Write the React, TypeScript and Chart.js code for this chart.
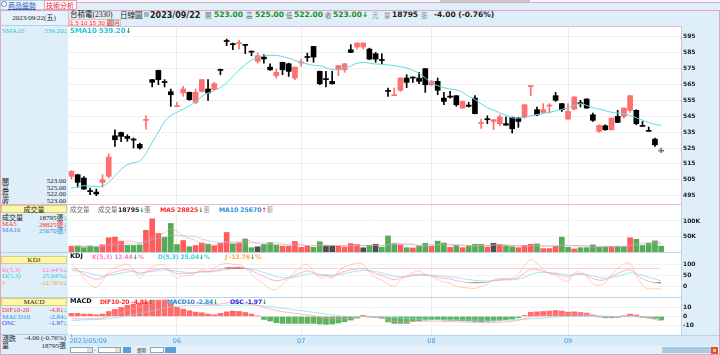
import React, { useEffect, useRef } from "react";
import { Chart, registerables } from "chart.js";
Chart.register(...registerables);

// ---------------- DATA ----------------
const opens = [
  507.2, 508.2, 506.1, 498.0, 497.3, 503.4, 507.2, 532.7, 534.8, 532.3,
  530.5, 527.3, 542.4, 568.0, 573.8, 566.5, 560.4, 551.0, 559.6, 560.0,
  553.7, 560.6, 562.1, 561.7, 574.2, 592.4, 590.2, 590.6, 590.0, 585.6,
  579.5, 582.2, 575.9, 570.5, 578.9, 578.0, 569.0, 578.5, 582.2, 588.9,
  573.2, 568.3, 566.9, 574.2, 574.2, 586.8, 588.5, 588.5, 587.2, 584.3,
  580.2, 560.8, 557.9, 561.3, 569.0, 569.6, 569.0, 574.9, 564.8, 566.9,
  556.4, 557.2, 557.9, 550.1, 552.0, 556.4, 540.5, 543.0, 541.7, 540.3,
  540.3, 544.3, 543.8, 544.5, 563.6, 549.1, 547.4, 551.4, 557.9, 552.9,
  543.2, 549.5, 553.1, 555.8, 545.9, 535.5, 539.0, 536.5, 544.9, 544.9,
  548.7, 548.7, 539.0, 536.1, 530.6, 523.0,
];
const highs = [
  510.8, 508.5, 507.0, 499.8, 499.2, 508.2, 521.4, 536.5, 535.0, 533.4,
  531.3, 528.1, 545.3, 568.2, 574.0, 568.0, 562.1, 553.7, 563.8, 560.2,
  562.1, 568.2, 568.0, 566.3, 574.6, 593.5, 591.0, 592.7, 590.2, 586.0,
  584.7, 583.7, 578.0, 574.7, 579.0, 578.4, 575.9, 581.0, 584.7, 589.0,
  573.4, 573.2, 573.2, 576.9, 578.2, 590.0, 591.2, 591.2, 587.8, 585.1,
  584.3, 562.7, 562.7, 569.2, 571.1, 569.8, 572.6, 575.0, 567.5, 569.0,
  560.0, 560.6, 558.0, 554.5, 553.7, 557.9, 543.2, 545.3, 543.0, 545.9,
  544.5, 544.5, 544.3, 552.4, 564.0, 550.8, 552.9, 552.9, 560.0, 553.1,
  552.9, 557.3, 555.0, 556.0, 547.0, 539.6, 539.6, 544.0, 548.7, 550.3,
  558.1, 549.1, 541.7, 538.2, 531.3, 525.0,
];
const lows = [
  505.5, 500.4, 499.0, 495.6, 495.0, 500.4, 506.1, 526.0, 529.0, 529.2,
  525.0, 524.3, 536.9, 563.4, 564.8, 563.4, 551.2, 551.0, 557.5, 555.0,
  552.9, 560.2, 555.0, 561.3, 571.1, 589.4, 586.8, 587.2, 584.3, 583.0,
  578.4, 578.4, 573.8, 569.0, 571.1, 570.0, 568.0, 576.3, 579.5, 578.9,
  564.8, 563.4, 565.2, 570.5, 572.6, 585.0, 587.2, 587.2, 580.5, 578.9,
  578.0, 557.5, 557.9, 560.6, 563.0, 566.3, 565.4, 560.0, 564.2, 558.5,
  552.2, 556.4, 551.2, 550.0, 550.8, 546.4, 537.3, 540.3, 536.5, 539.0,
  539.2, 534.4, 538.0, 543.8, 557.9, 545.3, 547.2, 547.0, 554.3, 548.0,
  543.0, 549.0, 550.8, 550.0, 541.7, 534.8, 536.1, 536.2, 541.0, 543.8,
  547.4, 539.6, 538.6, 535.5, 526.0, 522.0,
];
const closes = [
  510.3, 503.4, 499.2, 497.6, 496.1, 505.1, 519.3, 530.2, 532.3, 531.0,
  530.0, 525.0, 543.0, 566.3, 568.0, 566.2, 558.5, 551.4, 562.1, 555.4,
  560.0, 568.0, 559.6, 565.4, 573.8, 592.0, 590.0, 591.0, 589.5, 585.3,
  583.0, 581.0, 574.2, 572.6, 574.2, 573.2, 575.9, 578.9, 581.9, 582.2,
  565.4, 568.0, 565.4, 576.8, 578.0, 585.1, 591.0, 591.0, 580.9, 580.9,
  580.0, 560.6, 558.5, 569.0, 566.3, 569.0, 566.9, 564.8, 566.9, 561.3,
  554.3, 557.0, 552.2, 554.3, 551.2, 546.6, 540.9, 542.8, 542.8, 544.5,
  539.4, 537.1, 541.7, 552.2, 563.9, 545.9, 549.1, 551.7, 555.0, 549.1,
  548.0, 557.1, 552.9, 550.1, 542.4, 539.2, 536.5, 543.8, 541.1, 550.1,
  557.9, 540.3, 538.6, 535.5, 527.0, 523.0,
];
const sma10 = [
  499.8, 500.6, 501.3, 501.0, 500.8, 500.9, 503.5, 507.5, 511.5, 514.5,
  515.8, 516.8, 521.5, 528.5, 535.0, 541.5, 545.5, 547.5, 549.5, 551.5,
  554.0, 557.5, 559.5, 561.2, 563.0, 566.0, 570.0, 574.0, 577.5, 580.3,
  582.0, 583.0, 583.3, 583.3, 582.5, 581.5, 580.0, 578.8, 577.8, 577.0,
  576.8, 575.5, 574.3, 574.5, 575.3, 576.5, 578.3, 578.8, 578.3, 577.8,
  577.6, 577.3, 576.7, 576.2, 575.3, 573.8, 572.1, 569.0, 566.0, 564.2,
  563.0, 562.0, 561.7, 560.0, 557.5, 555.5, 552.8, 550.5, 548.8, 547.2,
  545.5, 544.0, 543.8, 544.3, 545.2, 546.0, 546.8, 547.5, 548.3, 549.3,
  550.3, 551.8, 552.8, 551.8, 550.3, 549.5, 548.5, 547.5, 547.0, 546.6,
  545.5, 544.0, 542.5, 541.0, 539.8, 539.2,
];
const volumes = [
  18500, 19600, 14000, 19600, 16000, 23000, 46000, 48000, 35000, 21000,
  21000, 23000, 70000, 107000, 60000, 48000, 92000, 24000, 37000, 17000,
  21000, 29000, 25000, 20000, 28000, 63000, 26000, 29000, 42000, 14000,
  17000, 24000, 30000, 23000, 18500, 18500, 34000, 15000, 18500, 15000,
  33000, 19600, 19600, 18500, 16000, 27000, 24000, 13500, 22000, 25000,
  15000, 52000, 27000, 23000, 14000, 13000, 19600, 28000, 18500, 35000,
  29000, 15000, 21000, 14000, 19600, 25000, 25000, 16000, 28000, 24000,
  19600, 17000, 14000, 21000, 25000, 26000, 11000, 11000, 18500, 48000,
  15000, 10000, 14000, 14000, 23000, 16000, 16000, 17000, 17000, 17000,
  46000, 41000, 21000, 28000, 36000, 18795,
];
const volDirs = [
  "r","g","g","g","g","r","r","r","r","g",
  "g","g","r","r","r","g","g","g","r","g",
  "r","r","g","r","r","r","g","r","g","g",
  "k","g","g","g","r","r","r","r","r","g",
  "g","k","k","r","r","r","r","k","g","k",
  "g","g","g","r","g","r","g","g","r","g",
  "g","r","g","r","g","g","g","r","k","r",
  "g","g","r","r","r","g","r","r","r","g",
  "g","r","g","g","g","g","g","r","g","g",
  "r","g","g","g","g","g",
];
const volMA5 = [
  18000, 18000, 18000, 18000, 17500, 18500, 24000, 30000, 34000, 35000,
  34000, 30000, 34000, 48000, 56000, 62000, 75000, 66000, 52000, 44000,
  38000, 26000, 26000, 22000, 25000, 33000, 32000, 33000, 38000, 35000,
  26000, 25000, 25000, 22000, 22500, 23000, 25000, 22000, 21000, 20000,
  23000, 20000, 21000, 21000, 21000, 20000, 21000, 20000, 20500, 22000,
  20000, 25500, 28000, 28000, 26000, 26000, 19000, 19500, 19000, 23000,
  26000, 25000, 24000, 23000, 20000, 19000, 21000, 20000, 23000, 24000,
  22500, 21000, 20500, 19000, 19000, 21000, 19000, 19000, 18000, 23000,
  21000, 20500, 21000, 20000, 15000, 15500, 17000, 17000, 18000, 17000,
  23000, 28000, 28500, 31000, 34000, 28825,
];
const volMA10 = [
  19000, 19000, 18500, 18500, 18000, 18000, 20000, 23000, 25000, 26000,
  26000, 27000, 32000, 41000, 44000, 47000, 55000, 53000, 52000, 51000,
  50000, 42000, 37000, 33000, 31000, 33000, 29000, 29000, 30000, 29000,
  30000, 28000, 29000, 30000, 27000, 22000, 24000, 23000, 21000, 21000,
  23000, 22500, 21500, 21000, 20500, 21000, 22000, 21000, 21000, 22000,
  20000, 22500, 24000, 24000, 23000, 23000, 22000, 23000, 23000, 23500,
  23000, 22000, 21000, 21000, 21000, 21000, 22000, 22000, 22000, 23000,
  22000, 21000, 20000, 20000, 21000, 21000, 20000, 20000, 20000, 21000,
  21000, 19500, 19500, 19500, 19000, 18000, 18500, 18000, 19000, 18000,
  19500, 21500, 23000, 24000, 26000, 25670,
];
const kVals = [
  80, 72, 55, 40, 32, 40, 55, 65, 72, 75,
  70, 55, 65, 73, 79, 81, 70, 57, 60, 58,
  62, 68, 66, 72, 76, 86, 86, 87, 82, 70,
  58, 45, 32, 25, 30, 38, 50, 62, 70, 62,
  48, 50, 45, 58, 68, 75, 79, 81.5, 70, 58,
  50, 38, 30, 38, 45, 52, 55, 52, 48, 42,
  36, 33, 26, 21, 17, 15, 16, 19, 26, 30,
  32, 33, 40, 60, 78, 76, 68, 60, 56, 48,
  42, 55, 58, 50, 35, 28, 30, 45, 58, 70,
  75, 55, 35, 22, 17, 12.44,
];
const dVals = [
  70, 70, 65, 58, 50, 47, 50, 55, 60, 65,
  67, 63, 64, 67, 71, 74, 73, 68, 65, 63,
  63, 65, 65, 67, 71, 76, 79, 82, 82, 78,
  72, 63, 53, 44, 39, 39, 42, 49, 56, 58,
  55, 53, 50, 53, 58, 64, 69, 73, 72, 67,
  61, 53, 46, 43, 44, 47, 50, 50, 50, 48,
  46, 43, 40, 35, 31, 27, 25, 24, 25, 27,
  29, 30, 33, 42, 54, 61, 63, 62, 60, 56,
  51, 52, 54, 53, 47, 41, 37, 40, 46, 54,
  61, 59, 51, 41, 33, 25.04,
];
const jVals = [
  100, 75, 35, 5, -5, 25, 65, 85, 95, 100,
  78, 35, 68, 88, 98, 95, 62, 35, 50, 48,
  60, 75, 68, 82, 98, 105, 100, 98, 82, 55,
  30, 10, -12, -15, 10, 35, 65, 90, 100, 70,
  35, 45, 35, 68, 88, 98, 105, 100, 65, 40,
  28, 8, 0, 28, 48, 62, 70, 55, 45, 32,
  18, 15, 0, -5, -8, -10, 0, 10, 30, 35,
  36, 38, 55, 95, 122, 105, 78, 58, 50, 32,
  22, 60, 65, 45, 12, 4, 15, 55, 82, 102,
  105, 48, 5, -12, -10, -12.76,
];
const difVals = [
  -2.85, -2.55, -2.65, -2.35, -2.5, -1.85, 0.2, 2.2, 4.4, 6.8,
  8.8, 10.4, 12.8, 15.2, 16.7, 18.1, 17.3, 15.9, 15.5, 14.9,
  14.35, 14.1, 13.35, 12.9, 13.65, 14.6, 15.1, 15.0, 14.45, 13.35,
  12.1, 9.75, 8.2, 6.45, 5.2, 4.3, 3.4, 2.5, 1.6, 0.7,
  -0.65, -1.85, -2.55, -2.8, -2.7, -2.2, -1.3, 0.2, -0.5, -0.9,
  -1.6, -4.0, -5.3, -5.8, -6.2, -5.45, -5.4, -5.2, -5.1, -5.05,
  -5.5, -5.75, -5.85, -6.15, -6.4, -6.7, -7.0, -6.9, -6.7, -6.25,
  -5.8, -5.25, -4.25, -2.7, -0.45, 0.3, 1.0, 1.7, 2.55, 2.6,
  2.35, 2.7, 2.55, 2.3, 1.25, 0.15, -0.55, -0.75, -0.7, -0.05,
  0.95, 0.35, -0.95, -2.15, -3.35, -4.81,
];
const macdVals = [
  -4.5, -4.2, -3.9, -3.6, -3.4, -3.1, -2.5, -1.6, -0.5, 0.8,
  2.1, 3.4, 4.8, 6.3, 7.8, 9.2, 10.3, 11.0, 11.5, 11.8,
  12.0, 12.1, 12.1, 12.0, 12.0, 12.1, 12.2, 12.3, 12.3, 12.1,
  11.9, 11.4, 10.7, 9.9, 9.0, 8.1, 7.2, 6.3, 5.4, 4.5,
  3.5, 2.5, 1.6, 0.8, 0.2, -0.2, -0.4, -0.3, -0.3, -0.4,
  -0.6, -1.0, -1.5, -2.0, -2.4, -2.7, -3.0, -3.2, -3.3, -3.4,
  -3.5, -3.6, -3.7, -3.8, -3.9, -4.0, -4.1, -4.2, -4.2, -4.1,
  -4.0, -3.8, -3.5, -3.2, -2.7, -2.2, -1.7, -1.2, -0.7, -0.3,
  0.0, 0.2, 0.4, 0.5, 0.5, 0.4, 0.2, 0.0, -0.2, -0.3,
  -0.3, -0.4, -0.8, -1.4, -2.1, -2.84,
];
const oscBars = [
  3.3, 3.3, 2.5, 2.5, 1.8, 2.5, 5.4, 7.6, 9.8, 12,
  13.4, 14, 16, 17.8, 17.8, 17.8, 14, 9.8, 8, 6.2,
  4.7, 4, 2.5, 1.8, 3.3, 5, 5.8, 5.4, 4.3, 2.5,
  0.4, -3.3, -5, -6.9, -7.6, -7.6, -7.6, -7.6, -7.6, -7.6,
  -8.3, -8.7, -8.3, -7.2, -5.8, -4, -1.8, 1, -0.4, -1,
  -2, -6, -7.6, -7.6, -7.6, -5.5, -4.8, -4, -3.6, -3.3,
  -4, -4.3, -4.3, -4.7, -5, -5.4, -5.8, -5.4, -5, -4.3,
  -3.6, -2.9, -1.5, 1, 4.5, 5, 5.4, 5.8, 6.5, 5.8,
  4.7, 5, 4.3, 3.6, 1.5, -0.5, -1.5, -1.5, -1, 0.5,
  2.5, 1.5, -0.3, -1.5, -2.5, -3.94,
];
const monthStartIdx = [17, 37, 58, 80];
const dateTickIdx = [0, 17, 37, 58, 80];
const dateTickLabels = ["2023/05/09", "06", "07", "08", "09"];
const priceTicks = [495, 500, 505, 510, 515, 520, 525, 530, 535, 540, 545, 550, 555, 560, 565, 570, 575, 580, 585, 590, 595];
const volTicks = [50000, 100000];
const kdjTicks = [0, 50, 100];
const macdTicks = [-10, 0, 10];

// ---------------- STYLE / LAYOUT ----------------
const X_MIN = -0.56;
const X_MAX = 98.2;
const CW = 652;
const AXIS_W = 39;
const PAD = 6;
const TICK_FONT = { family: "DejaVu Sans", size: 6, weight: "bold" as const };
const RED_C = "#ff6f6f";
const BLACK_C = "#000000";
const GRAY_C = "#777777";

const bgPlugin = {
  id: "plotbg",
  beforeDraw(chart: any) {
    const { ctx, chartArea: a } = chart;
    ctx.save();
    ctx.fillStyle = "#ffffff";
    ctx.fillRect(a.left, a.top, a.right - a.left, a.bottom - a.top);
    ctx.restore();
  },
};

const datePlugin = {
  id: "dates",
  afterDraw(chart: any) {
    const { ctx, chartArea: a } = chart;
    const xs = chart.scales.x;
    ctx.save();
    ctx.font = "6.5px 'DejaVu Sans'";
    ctx.fillStyle = "#3e9be0";
    ctx.textBaseline = "middle";
    dateTickIdx.forEach((idx, k) => {
      const px = xs.getPixelForValue(idx);
      if (k === 0) {
        ctx.textAlign = "left";
        ctx.fillText(dateTickLabels[k], px - 2, a.bottom + 6.5);
        ctx.fillStyle = "#8fb7d6";
        ctx.fillRect(Math.round(px), a.bottom - 1, 1, 3);
        ctx.fillStyle = "#3e9be0";
      } else {
        ctx.textAlign = "center";
        ctx.fillText(dateTickLabels[k], px, a.bottom + 6.5);
      }
    });
    ctx.restore();
  },
};

function xAxis() {
  return {
    type: "linear" as const,
    min: X_MIN,
    max: X_MAX,
    offset: false,
    ticks: { display: false },
    border: { display: false },
    grid: { color: "#eeeeee", drawTicks: false, lineWidth: 1, offset: false },
    afterBuildTicks: (s: any) => {
      s.ticks = monthStartIdx.map((v) => ({ value: v }));
    },
  };
}

function yAxis(min: number, max: number, ticks: number[], fmt: (v: number) => string, gridColor: string) {
  return {
    position: "right" as const,
    min,
    max,
    afterFit: (s: any) => {
      s.width = AXIS_W;
    },
    afterBuildTicks: (s: any) => {
      s.ticks = ticks.map((v) => ({ value: v }));
    },
    ticks: { font: TICK_FONT, color: "#1a1a1a", padding: 2, callback: (v: any) => fmt(Number(v)) },
    grid: { color: gridColor, drawTicks: false },
    border: { display: false },
  };
}

function baseOptions(scales: any, padBottom = PAD) {
  return {
    animation: false as const,
    responsive: false,
    maintainAspectRatio: false,
    devicePixelRatio: 1,
    layout: { padding: { top: PAD, bottom: padBottom, left: 0, right: 0 } },
    plugins: { legend: { display: false }, tooltip: { enabled: false } },
    events: [] as any[],
    scales,
  };
}

function candleColor(i: number) {
  if (closes[i] > opens[i]) return RED_C;
  if (closes[i] < opens[i]) return BLACK_C;
  return GRAY_C;
}

function priceConfig(): any {
  const colors = opens.map((_, i) => candleColor(i));
  return {
    type: "bar",
    data: {
      datasets: [
        {
          type: "line",
          data: sma10.map((v, i) => ({ x: i, y: v })),
          borderColor: "#5fdbe3",
          borderWidth: 1,
          pointRadius: 0,
          tension: 0.35,
          order: 0,
        },
        {
          type: "bar",
          data: opens.map((o, i) => ({ x: i, y: [o, closes[i]] })),
          backgroundColor: colors,
          barThickness: 5,
          minBarLength: 1,
          grouped: false,
          order: 1,
        },
        {
          type: "bar",
          data: lows.map((l, i) => ({ x: i, y: [l, highs[i]] })),
          backgroundColor: colors,
          barThickness: 1,
          grouped: false,
          order: 2,
        },
      ],
    },
    options: baseOptions({
      x: xAxis(),
      y: yAxis(489.8, 601.1, priceTicks, (v) => String(v), "#f0f0f0"),
    }),
    plugins: [bgPlugin],
  };
}

function volConfig(): any {
  const map: Record<string, string> = { r: "#ff5c5c", g: "#56ab56", k: "#4d4d4d" };
  const colors = volDirs.map((d) => map[d]);
  return {
    type: "bar",
    data: {
      datasets: [
        { type: "line", data: volMA5.map((v, i) => ({ x: i, y: v })), borderColor: "rgba(255,140,140,0.55)", borderWidth: 1, pointRadius: 0, tension: 0.3, order: 0 },
        { type: "line", data: volMA10.map((v, i) => ({ x: i, y: v })), borderColor: "rgba(140,190,235,0.55)", borderWidth: 1, pointRadius: 0, tension: 0.3, order: 0 },
        { type: "bar", data: volumes.map((v, i) => ({ x: i, y: v })), backgroundColor: colors, barThickness: 5, grouped: false, order: 1 },
      ],
    },
    options: baseOptions({
      x: xAxis(),
      y: yAxis(0, 151600, volTicks, (v) => v / 1000 + "K", "#f3f3f3"),
    }),
    plugins: [bgPlugin],
  };
}

function kdjConfig(): any {
  return {
    type: "line",
    data: {
      datasets: [
        {
          data: kVals.map((v, i) => ({ x: i, y: v })),
          borderColor: "rgba(255,150,200,0.75)",
          borderWidth: 1,
          pointRadius: 0,
          tension: 0.3,
          fill: { target: { value: 80 }, above: "rgba(235,20,20,0.95)", below: "rgba(0,0,0,0)" },
        },
        {
          data: kVals.map((v, i) => ({ x: i, y: v })),
          borderColor: "rgba(0,0,0,0)",
          borderWidth: 0,
          pointRadius: 0,
          tension: 0.3,
          fill: { target: { value: 20 }, above: "rgba(0,0,0,0)", below: "rgba(20,220,20,0.95)" },
        },
        { data: dVals.map((v, i) => ({ x: i, y: v })), borderColor: "rgba(130,225,230,0.75)", borderWidth: 1, pointRadius: 0, tension: 0.3 },
        { data: jVals.map((v, i) => ({ x: i, y: v })), borderColor: "rgba(255,190,140,0.7)", borderWidth: 1, pointRadius: 0, tension: 0.3 },
      ],
    },
    options: baseOptions({
      x: xAxis(),
      y: yAxis(-48.6, 151.4, kdjTicks, (v) => String(v), "#f3f3f3"),
    }),
    plugins: [bgPlugin],
  };
}

function macdConfig(): any {
  const colors = oscBars.map((v) => (v >= 0 ? "#ff6b6b" : "#5fb35f"));
  return {
    type: "bar",
    data: {
      datasets: [
        { type: "line", data: difVals.map((v, i) => ({ x: i, y: v })), borderColor: "rgba(255,150,170,0.7)", borderWidth: 1, pointRadius: 0, tension: 0.3, order: 0 },
        { type: "line", data: macdVals.map((v, i) => ({ x: i, y: v })), borderColor: "rgba(130,220,230,0.7)", borderWidth: 1, pointRadius: 0, tension: 0.3, order: 0 },
        { type: "bar", data: oscBars.map((v, i) => ({ x: i, y: v })), backgroundColor: colors, barThickness: 5, grouped: false, order: 1 },
      ],
    },
    options: baseOptions(
      {
        x: xAxis(),
        y: yAxis(-20.3, 20.1, macdTicks, (v) => String(v), "#f3f3f3"),
      },
      14
    ),
    plugins: [bgPlugin, datePlugin],
  };
}

// ---------------- UI helpers ----------------
const SERIF = "'Liberation Serif', 'DejaVu Serif', 'Noto Sans CJK TC', serif";
const CJK = "'Noto Sans CJK TC', 'Noto Sans CJK SC', sans-serif";
const SANS = "'DejaVu Sans', 'Noto Sans CJK TC', sans-serif";
const ARROW_G = "#11a011";
const ARROW_R = "#ff2020";

function T(props: {
  x: number;
  y: number;
  s?: number;
  c?: string;
  b?: boolean;
  f?: string;
  right?: boolean;
  center?: boolean;
  w?: number;
  ls?: number;
  children: React.ReactNode;
}) {
  const s = props.s ?? 7;
  const h = Math.ceil(s * 1.3);
  const style: React.CSSProperties = {
    position: "absolute",
    top: props.y - h / 2,
    height: h,
    lineHeight: h + "px",
    fontSize: s,
    color: props.c ?? "#222",
    fontWeight: props.b ? "bold" : "normal",
    fontFamily: props.f ?? SERIF,
    whiteSpace: "nowrap",
    letterSpacing: props.ls ?? 0,
  };
  if (props.right) {
    style.right = 720 - props.x;
    style.textAlign = "right";
  } else if (props.center) {
    style.left = props.x - (props.w ?? 60) / 2;
    style.width = props.w ?? 60;
    style.textAlign = "center";
  } else {
    style.left = props.x;
  }
  return <div style={style}>{props.children}</div>;
}

function Box(p: { x: number; y: number; w: number; h: number; bg?: string; bd?: string; z?: number }) {
  return (
    <div
      style={{
        position: "absolute",
        left: p.x,
        top: p.y,
        width: p.w,
        height: p.h,
        background: p.bg ?? "transparent",
        border: p.bd ? "1px solid " + p.bd : undefined,
        boxSizing: "border-box",
        zIndex: p.z,
      }}
    />
  );
}

function YellowHead(p: { y: number; label: string }) {
  return (
    <>
      <Box x={1} y={p.y} w={66} h={8} bg="#fbf6a8" bd="#d8cf7a" />
      <T x={34} y={p.y + 4} s={7} center w={66} f={p.label === "KDJ" || p.label === "MACD" ? SERIF : CJK}>
        {p.label}
      </T>
    </>
  );
}

export default function App() {
  const priceRef = useRef<HTMLCanvasElement>(null);
  const volRef = useRef<HTMLCanvasElement>(null);
  const kdjRef = useRef<HTMLCanvasElement>(null);
  const macdRef = useRef<HTMLCanvasElement>(null);

  useEffect(() => {
    const charts = [
      new Chart(priceRef.current as HTMLCanvasElement, priceConfig()),
      new Chart(volRef.current as HTMLCanvasElement, volConfig()),
      new Chart(kdjRef.current as HTMLCanvasElement, kdjConfig()),
      new Chart(macdRef.current as HTMLCanvasElement, macdConfig()),
    ];
    return () => charts.forEach((c) => c.destroy());
  }, []);

  const cv = (top: number, h: number): React.CSSProperties => ({
    position: "absolute",
    left: 68,
    top,
    width: CW,
    height: h,
  });

  const arrowD = <span style={{ color: ARROW_G }}>↓</span>;
  const arrowU = <span style={{ color: ARROW_R }}>↑</span>;

  return (
    <div
      style={{
        position: "absolute",
        left: 0,
        top: 0,
        width: 720,
        height: 355,
        background: "#dfeffa",
        overflow: "hidden",
        fontFamily: SERIF,
      }}
    >
      {/* top strip / tabs */}
      <Box x={0} y={0} w={720} h={3} bg="#f3f6f8" />
      <Box x={440} y={0} w={90} h={2} bg="#c9c9c9" />
      <Box x={77} y={2} w={643} h={1} bg="#e2a9c3" />
      <Box x={0} y={0} w={77} h={10} bg="#eef5fa" bd="#b8cde0" />
      <div style={{ position: "absolute", left: 1, top: 1, width: 6, height: 6, borderRadius: 3, border: "1px solid #6b8db5", boxSizing: "border-box", background: "#fff" }} />
      <T x={8} y={5} s={7} c="#2f62b8" f={CJK}>
        <span style={{ textDecoration: "underline" }}>商品盤勢</span>
      </T>
      <Box x={44} y={0} w={33} h={10} bg="#ffffff" bd="#e59bbb" />
      <T x={46} y={5} s={7} c="#e8262d" f={CJK}>技術分析</T>

      {/* outer frame */}
      <Box x={0} y={10} w={720} h={345} bd="#e0a6c0" />
      <Box x={68} y={10} w={1} h={325} bg="#e6b3cc" />

      {/* sidebar */}
      <Box x={1} y={11} w={67} h={15} bg="#e6f2fb" />
      <Box x={1} y={25} w={67} h={1} bg="#b7d0e6" />
      <T x={34} y={17.5} s={7} center w={66}>2023/09/22(五)</T>
      <T x={2} y={31} s={7} c="#2cc6d2">SMA10</T>
      <T x={67} y={31} s={7} c="#2cc6d2" right>539.20{arrowD}</T>

      <T x={2} y={181} s={7} f={CJK}>開</T>
      <T x={66} y={181} s={7} right>523.00</T>
      <T x={2} y={187.5} s={7} f={CJK}>高</T>
      <T x={66} y={187.5} s={7} right>525.00</T>
      <T x={2} y={194} s={7} f={CJK}>低</T>
      <T x={66} y={194} s={7} right>522.00</T>
      <T x={2} y={200.5} s={7} f={CJK}>收</T>
      <T x={66} y={200.5} s={7} right>523.00</T>

      <Box x={1} y={204} w={67} h={1} bg="#e6b3cc" />
      <YellowHead y={205} label="成交量" />
      <T x={2} y={217} s={7} f={CJK}>成交量</T>
      <T x={67} y={217} s={7} right>18795<span style={{ fontFamily: CJK }}>張</span>{arrowD}</T>
      <T x={2} y={223.5} s={7} c="#ff2a2a">MA5</T>
      <T x={67} y={223.5} s={7} c="#ff2a2a" right>28825<span style={{ fontFamily: CJK }}>張</span>{arrowD}</T>
      <T x={2} y={230} s={7} c="#2d8fd8">MA10</T>
      <T x={67} y={230} s={7} c="#2d8fd8" right>25670<span style={{ fontFamily: CJK }}>張</span>{arrowU}</T>

      <Box x={1} y={252} w={67} h={1} bg="#b7d0e6" />
      <YellowHead y={256} label="KDJ" />
      <T x={2} y={269.5} s={7} c="#ff6fc0">K(5,3)</T>
      <T x={67} y={269.5} s={7} c="#ff6fc0" right>12.44%{arrowD}</T>
      <T x={2} y={276} s={7} c="#2cc6d2">D(5,3)</T>
      <T x={67} y={276} s={7} c="#2cc6d2" right>25.04%{arrowD}</T>
      <T x={2} y={282.5} s={7} c="#f5a040">J</T>
      <T x={67} y={282.5} s={7} c="#f5a040" right>-12.76%{arrowD}</T>

      <Box x={1} y={297} w={67} h={1} bg="#b7d0e6" />
      <YellowHead y={298} label="MACD" />
      <T x={2} y={310} s={7} c="#ff2a2a">DIF10-20</T>
      <T x={67} y={310} s={7} c="#ff2a2a" right>-4.81{arrowD}</T>
      <T x={2} y={316.5} s={7} c="#2d8fd8">MACD10</T>
      <T x={67} y={316.5} s={7} c="#2d8fd8" right>-2.84{arrowD}</T>
      <T x={2} y={323} s={7} c="#2b3fe0">OSC</T>
      <T x={67} y={323} s={7} c="#2b3fe0" right>-1.97{arrowD}</T>

      <Box x={1} y={334} w={67} h={1} bg="#b7d0e6" />
      <T x={2} y={338} s={7} f={CJK}>漲跌</T>
      <T x={66} y={338} s={7} right>-4.00 (-0.76%)</T>
      <T x={2} y={344.5} s={7} f={CJK}>量</T>
      <T x={66} y={344.5} s={7} right>18795<span style={{ fontFamily: CJK }}>張</span></T>

      {/* header title row */}
      <T x={70} y={15} s={7.5}>台積電(2330)</T>
      <T x={120} y={15} s={7.5} f={CJK}>日線圖</T>
      <Box x={144} y={12} w={5} h={5} bg="#9fb6cc" />
      <T x={150} y={15} s={8} b f={SANS}>2023/09/22</T>
      <T x={205} y={15} s={6.5} c="#666" f={CJK}>開</T>
      <T x={214} y={15} s={7.5} b f={SANS} c="#1a8f1a">523.00</T>
      <T x={246} y={15} s={6.5} c="#666" f={CJK}>高</T>
      <T x={255} y={15} s={7.5} b f={SANS} c="#1a8f1a">525.00</T>
      <T x={286} y={15} s={6.5} c="#666" f={CJK}>低</T>
      <T x={294} y={15} s={7.5} b f={SANS} c="#1a8f1a">522.00</T>
      <T x={325} y={15} s={6.5} c="#666" f={CJK}>收</T>
      <T x={333} y={15} s={7.5} b f={SANS} c="#1a8f1a">523.00{arrowD}</T>
      <T x={372} y={15} s={6.5} c="#888" f={CJK}>元</T>
      <T x={384} y={15} s={6.5} c="#888" f={CJK}>量</T>
      <T x={392} y={15} s={7.5} b f={SANS}>18795</T>
      <T x={421} y={15} s={6.5} c="#888" f={CJK}>張</T>
      <T x={434} y={15} s={7.5} b f={SANS}>-4.00 (-0.76%)</T>

      {/* period buttons */}
      <Box x={69} y={19} w={44} h={7} bg="#fff1f1" bd="#f2b8b8" />
      <T x={70} y={22.5} s={5.5} c="#e22" f={SANS}>1 5 10 15 30 60</T>
      <Box x={107} y={19} w={7} h={7} bg="#d9d9d9" bd="#aaa" />
      <T x={107.5} y={22.5} s={5.5} c="#e22" f={CJK}>週</T>
      <Box x={114} y={19} w={7} h={7} bg="#f6f6f6" bd="#ccc" />
      <T x={114.5} y={22.5} s={5.5} c="#e22" f={CJK}>月</T>

      {/* date row & controls */}
      <Box x={69} y={335} w={650} h={11} bg="#d7ebf9" />
      <Box x={69} y={335} w={650} h={1} bg="#b4d3ec" />
      <Box x={69} y={346} w={650} h={8} bg="#e4f1fb" />
      <Box x={70} y={347} w={23} h={6} bg="#fff" bd="#8aa" />
      <Box x={87} y={348} w={5} h={4} bg="#ddd" />
      <Box x={98} y={347} w={23} h={6} bg="#fff" bd="#8aa" />
      <Box x={115} y={348} w={5} h={4} bg="#ddd" />
      <T x={94} y={350} s={5} c="#333" f={SANS}>-</T>
      <Box x={123} y={347} w={8} h={6} bg="#5c9ed6" />
      <T x={137} y={350} s={4.5} c="#333" f={CJK}>週期</T>
      <Box x={150} y={347} w={14} h={6} bg="#fff" bd="#8aa" />
      <Box x={165} y={347} w={11} h={6} bg="#5c9ed6" />
      <Box x={662} y={347} w={49} h={6} bg="#a9c8e2" />
      <Box x={711} y={347} w={7} h={7} bg="#e84b3c" />
      <Box x={713} y={349} w={3} h={3} bg="#f8d24a" />

      {/* chart canvases */}
      <canvas ref={priceRef} width={CW} height={177 + 2 * PAD} style={cv(27 - PAD, 177 + 2 * PAD)} />
      <canvas ref={volRef} width={CW} height={47 + 2 * PAD} style={cv(205 - PAD, 47 + 2 * PAD)} />
      <canvas ref={kdjRef} width={CW} height={44 + 2 * PAD} style={cv(253 - PAD, 44 + 2 * PAD)} />
      <canvas ref={macdRef} width={CW} height={37 + PAD + 14} style={cv(298 - PAD, 37 + PAD + 14)} />

      {/* plot frame lines */}
      <Box x={68} y={26} w={614} h={1} bg="#e8b8dc" z={2} />
      <Box x={681} y={26} w={1} h={179} bg="#e8b8dc" z={2} />
      <Box x={68} y={204} w={614} h={1} bg="#e8b8dc" z={2} />
      <Box x={68} y={252} w={614} h={1} bg="#b9d5ea" z={2} />
      <Box x={681} y={205} w={1} h={130} bg="#b9d5ea" z={2} />
      <Box x={68} y={297} w={614} h={1} bg="#b9d5ea" z={2} />

      {/* panel labels */}
      <div style={{ position: "absolute", left: 0, top: 0, zIndex: 3 }}>
        <T x={70} y={31} s={7} b f={SANS} c="#2cc6d2" ls={-0.1}>SMA10 539.20{arrowD}</T>

        <T x={70} y={209.5} s={6.5} c="#666" f={CJK}>成交量</T>
        <T x={98} y={209.5} s={6.5} c="#666" f={CJK}>成交量</T>
        <T x={118} y={209.5} s={6.3} b f={SANS} c="#222" ls={-0.15}>18795{arrowD}<span style={{ fontFamily: CJK, fontWeight: "normal", color: "#666" }}>張</span></T>
        <T x={160} y={209.5} s={6.3} b f={SANS} c="#ff2a2a" ls={-0.15}>MA5 28825{arrowD}<span style={{ fontFamily: CJK, fontWeight: "normal", color: "#888" }}>張</span></T>
        <T x={219} y={209.5} s={6.3} b f={SANS} c="#2d8fd8" ls={-0.15}>MA10 25670{arrowU}<span style={{ fontFamily: CJK, fontWeight: "normal", color: "#888" }}>張</span></T>

        <T x={70} y={256.5} s={6.5} b f={SANS} c="#111">KDJ</T>
        <T x={92} y={256.5} s={6.1} b f={SANS} c="#ff7ccc" ls={-0.15}>K(5,3) 12.44{arrowD}%</T>
        <T x={158} y={256.5} s={6.1} b f={SANS} c="#3fd0d8" ls={-0.15}>D(5,3) 25.04{arrowD}%</T>
        <T x={225} y={256.5} s={6.1} b f={SANS} c="#f7a84a" ls={-0.15}>J -12.76{arrowD}%</T>

        <T x={70} y={301.5} s={6.5} b f={SANS} c="#111">MACD</T>
        <T x={100} y={301.5} s={6.1} b f={SANS} c="#ff2a2a" ls={-0.2}>DIF10-20 -4.81{arrowD}</T>
        <T x={167} y={301.5} s={6.1} b f={SANS} c="#2d8fd8" ls={-0.2}>MACD10 -2.84{arrowD}</T>
        <T x={230} y={301.5} s={6.1} b f={SANS} c="#2222ee" ls={-0.2}>OSC -1.97{arrowD}</T>
      </div>
    </div>
  );
}
